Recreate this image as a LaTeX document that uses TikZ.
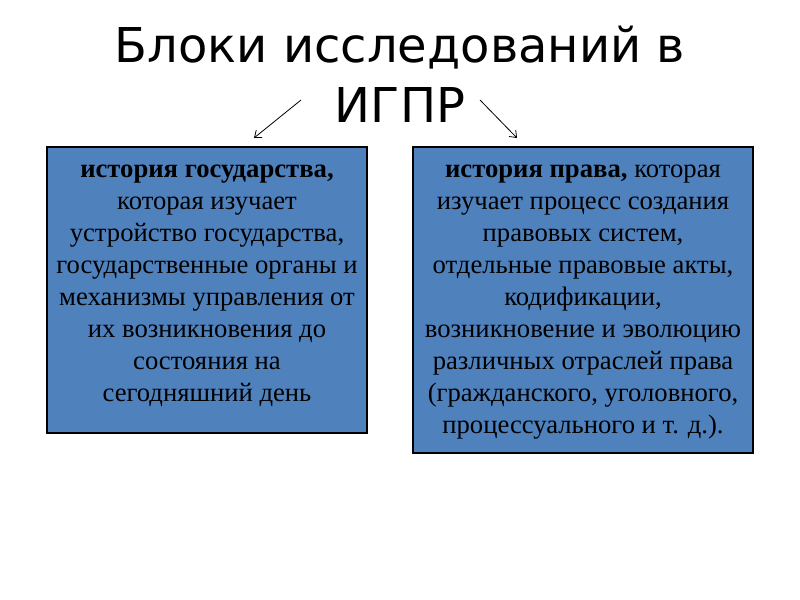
\documentclass[tikz,border=0pt]{standalone}
\usepackage{fontspec}
\setmainfont{Liberation Serif}
\newfontfamily\titlefont{DejaVu Sans}
\usetikzlibrary{arrows.meta}
\definecolor{boxblue}{HTML}{4F81BD}
\begin{document}
\begin{tikzpicture}[x=0.75pt,y=-0.75pt,
  bluebox/.style={draw=black, line width=1.1pt, fill=boxblue, inner sep=0pt},
  boxtext/.style={anchor=north, inner sep=0pt, align=center, text=black,
    font=\fontsize{20}{24}\selectfont},
  titletext/.style={anchor=north, inner sep=0pt, align=center,
    font=\titlefont\fontsize{36}{45}\selectfont},
  pointer/.style={line width=0.6pt, -{Straight Barb[length=4.5pt,width=7pt]}}]
\useasboundingbox (0,0) rectangle (800,600);
\fill[white] (0,0) rectangle (800,600);

\node[titletext] (title) at (400,20) {\strut Блоки исследований в\\ИГПР};

\node[bluebox, minimum width=240pt, minimum height=214.5pt] (L) at (207,290) {};
\node[bluebox, minimum width=255pt, minimum height=229.5pt] (R) at (583,300) {};

\node[boxtext] (Lt) at (207,154.6) {\strut\textbf{история государства,}\\
которая изучает\\
устройство государства,\\
государственные органы и\\
механизмы управления от\\
их возникновения до\\
состояния на\\
сегодняшний день};

\node[boxtext] (Rt) at (583,154.6) {\strut\textbf{история права,} которая\\
изучает процесс создания\\
правовых систем,\\
отдельные правовые акты,\\
кодификации,\\
возникновение и эволюцию\\
различных отраслей права\\
(гражданского, уголовного,\\
процессуального и т. д.).};

\coordinate (a1s) at (301,100);
\coordinate (a1e) at (254,138);
\coordinate (a2s) at (480,100);
\coordinate (a2e) at (517,138);
\draw[pointer] (a1s) -- (a1e);
\draw[pointer] (a2s) -- (a2e);
\end{tikzpicture}
\end{document}
